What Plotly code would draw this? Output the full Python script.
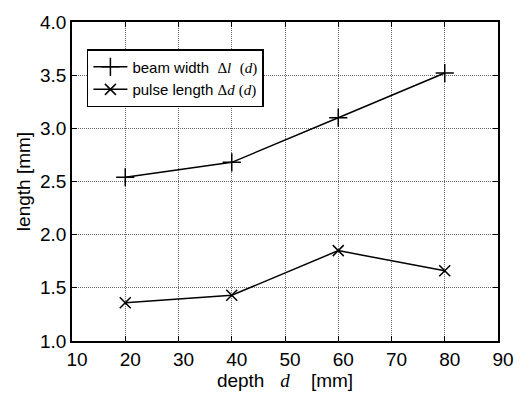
import plotly.graph_objects as go

depth = [20, 40, 60, 80]
beam_width = [2.54, 2.68, 3.10, 3.52]
pulse_length = [1.36, 1.43, 1.85, 1.66]
x_ticks = [10, 20, 30, 40, 50, 60, 70, 80, 90]
y_ticks = [1.0, 1.5, 2.0, 2.5, 3.0, 3.5, 4.0]

serif = "Liberation Serif"
def it(s):
    return f"<i><span style='font-family:{serif}'>{s}</span></i>"
def sf(s):
    return f"<span style='font-family:{serif}'>{s}</span>"

sp = "&nbsp;"

fig = go.Figure()
fig.add_trace(go.Scatter(
    x=depth, y=beam_width, mode="lines+markers",
    name=f"beam width{sp*2}{sf('Δ')}{it('l')}{sp*2}{sf('(')}{it('d')}{sf(')')}",
    line=dict(color="black", width=1.5),
    marker=dict(symbol="cross-thin", size=13, line=dict(color="black", width=1.5)),
))
fig.add_trace(go.Scatter(
    x=depth, y=pulse_length, mode="lines+markers",
    name=f"pulse length{sp}{sf('Δ')}{it('d')}{sp}{sf('(')}{it('d')}{sf(')')}",
    line=dict(color="black", width=1.5),
    marker=dict(symbol="x-thin", size=11, line=dict(color="black", width=1.5)),
))

axis_common = dict(
    showline=True, linecolor="black", linewidth=1.5, mirror="ticks",
    ticks="inside", ticklen=5, tickcolor="black",
    showgrid=True, gridcolor="rgba(0,0,0,0.6)", griddash="1px,1px", gridwidth=1,
    zeroline=False,
    tickfont=dict(family="Liberation Sans, Arial", size=19, color="black"),
)

fig.update_xaxes(
    range=[10, 90], tickvals=x_ticks, ticktext=[str(v) for v in x_ticks],
    ticklabelshift=5,
    title=dict(text=f"depth{sp*3}{it('d')}{sp*4}[mm]", font=dict(family="Liberation Sans, Arial", size=19, color="black"), standoff=0),
    **axis_common,
)
fig.update_yaxes(
    range=[1.0, 4.0], tickvals=y_ticks, ticktext=[f"{v:.1f}" for v in y_ticks],
    title=dict(text="length [mm]", font=dict(family="Liberation Sans, Arial", size=19, color="black"), standoff=4),
    **axis_common,
)

fig.update_layout(
    width=526, height=395,
    margin=dict(l=72, r=24, t=14, b=44),
    paper_bgcolor="white", plot_bgcolor="white",
    showlegend=True,
    legend=dict(
        x=0.035, y=0.915, xanchor="left", yanchor="top",
        bgcolor="white", bordercolor="black", borderwidth=1.5,
        font=dict(family="Liberation Sans, Arial", size=15, color="black"),
        tracegroupgap=0, itemwidth=34,
    ),
    font=dict(family="Liberation Sans, Arial", color="black"),
)

fig.write_html("out.html")
